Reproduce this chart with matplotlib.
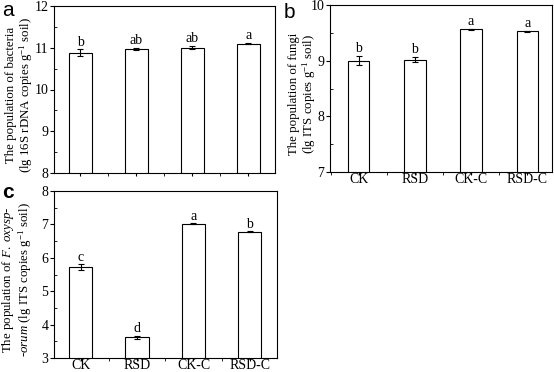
import matplotlib
matplotlib.use("Agg")
import matplotlib.pyplot as plt
from matplotlib.ticker import MultipleLocator

plt.rcParams['font.family'] = ['Liberation Serif', 'DejaVu Serif']
plt.rcParams['mathtext.fontset'] = 'custom'
plt.rcParams['mathtext.rm'] = 'Liberation Serif'
plt.rcParams['mathtext.it'] = 'Liberation Serif:italic'

groups = ["CK", "RSD", "CK-C", "RSD-C"]

bact = [10.88, 10.97, 11.00, 11.10]
bact_err = [0.08, 0.02, 0.04, 0.02]
bact_sig = ["b", "ab", "ab", "a"]

fungi = [9.00, 9.02, 9.56, 9.53]
fungi_err = [0.08, 0.04, 0.005, 0.01]
fungi_sig = ["b", "b", "a", "a"]

fox = [5.72, 3.62, 7.02, 6.78]
fox_err = [0.08, 0.05, 0.01, 0.01]
fox_sig = ["c", "d", "a", "b"]

W, H = 554, 372
fig = plt.figure(figsize=(W / 100, H / 100), dpi=100)


def panel(rect, xlim, bw, vals, errs, sig, ylim, yticks, ylab, lab_x, letter, lpos, xlabels=True):
    l, t, r, b = rect
    ax = fig.add_axes([l / W, 1 - b / H, (r - l) / W, (b - t) / H])
    x = range(len(vals))
    ax.bar(x, vals, width=bw, color="white", edgecolor="black", linewidth=0.8)
    ax.errorbar(x, vals, yerr=errs, fmt="none", ecolor="black", elinewidth=0.8,
                capsize=2, capthick=0.8)
    for i, (v, e, s) in enumerate(zip(vals, errs, sig)):
        ax.text(i, v + e + (ylim[1] - ylim[0]) * 0.005, s, ha="center", va="bottom", fontsize=10)
    ax.set_xlim(*xlim)
    ax.set_ylim(*ylim)
    ax.set_yticks(yticks)
    ax.set_xticks(list(x))
    ax.xaxis.set_minor_locator(MultipleLocator(0.5))
    ax.yaxis.set_minor_locator(MultipleLocator(0.5))
    if xlabels:
        ax.set_xticklabels(groups)
    else:
        ax.set_xticklabels([])
    ax.tick_params(labelsize=10, width=0.8)
    ax.tick_params(axis="x", which="major", length=2, pad=-1)
    ax.tick_params(axis="y", which="major", length=3, pad=1)
    ax.tick_params(axis="x", which="minor", length=2, width=0.6)
    ax.tick_params(axis="y", which="minor", length=2, width=0.6, direction="in")
    for sp in ax.spines.values():
        sp.set_linewidth(0.8)
    ax.set_ylabel(ylab, fontsize=9.3, linespacing=1.0)
    ax.yaxis.set_label_coords((lab_x - l) / (r - l), 0.47)
    fig.text(lpos[0] / W, 1 - lpos[1] / H, letter, fontsize=15, family="Liberation Sans",
             fontweight=letter == "c" and "bold" or "normal", va="center", ha="left")
    return ax


panel((54, 6, 275, 173), (-0.47, 3.48), 0.41, bact, bact_err, bact_sig, (8, 12), [8, 9, 10, 11, 12],
      "The population of bacteria\n(lg 16S rDNA copies g$^{-1}$ soil)", 35, "a", (2, 10), xlabels=False)
panel((330, 5, 552, 172), (-0.51, 3.44), 0.38, fungi, fungi_err, fungi_sig, (7, 10), [7, 8, 9, 10],
      "The population of fungi\n(lg ITS copies g$^{-1}$ soil)", 318, "b", (284, 13))
panel((54, 191, 277, 358), (-0.47, 3.48), 0.41, fox, fox_err, fox_sig, (3, 8), [3, 4, 5, 6, 7, 8],
      "The population of $\\it{F.\\ oxysp}$-\n-$\\it{orum}$ (lg ITS copies g$^{-1}$ soil)", 34, "c", (2, 192))

fig.savefig("out.png", dpi=100)
